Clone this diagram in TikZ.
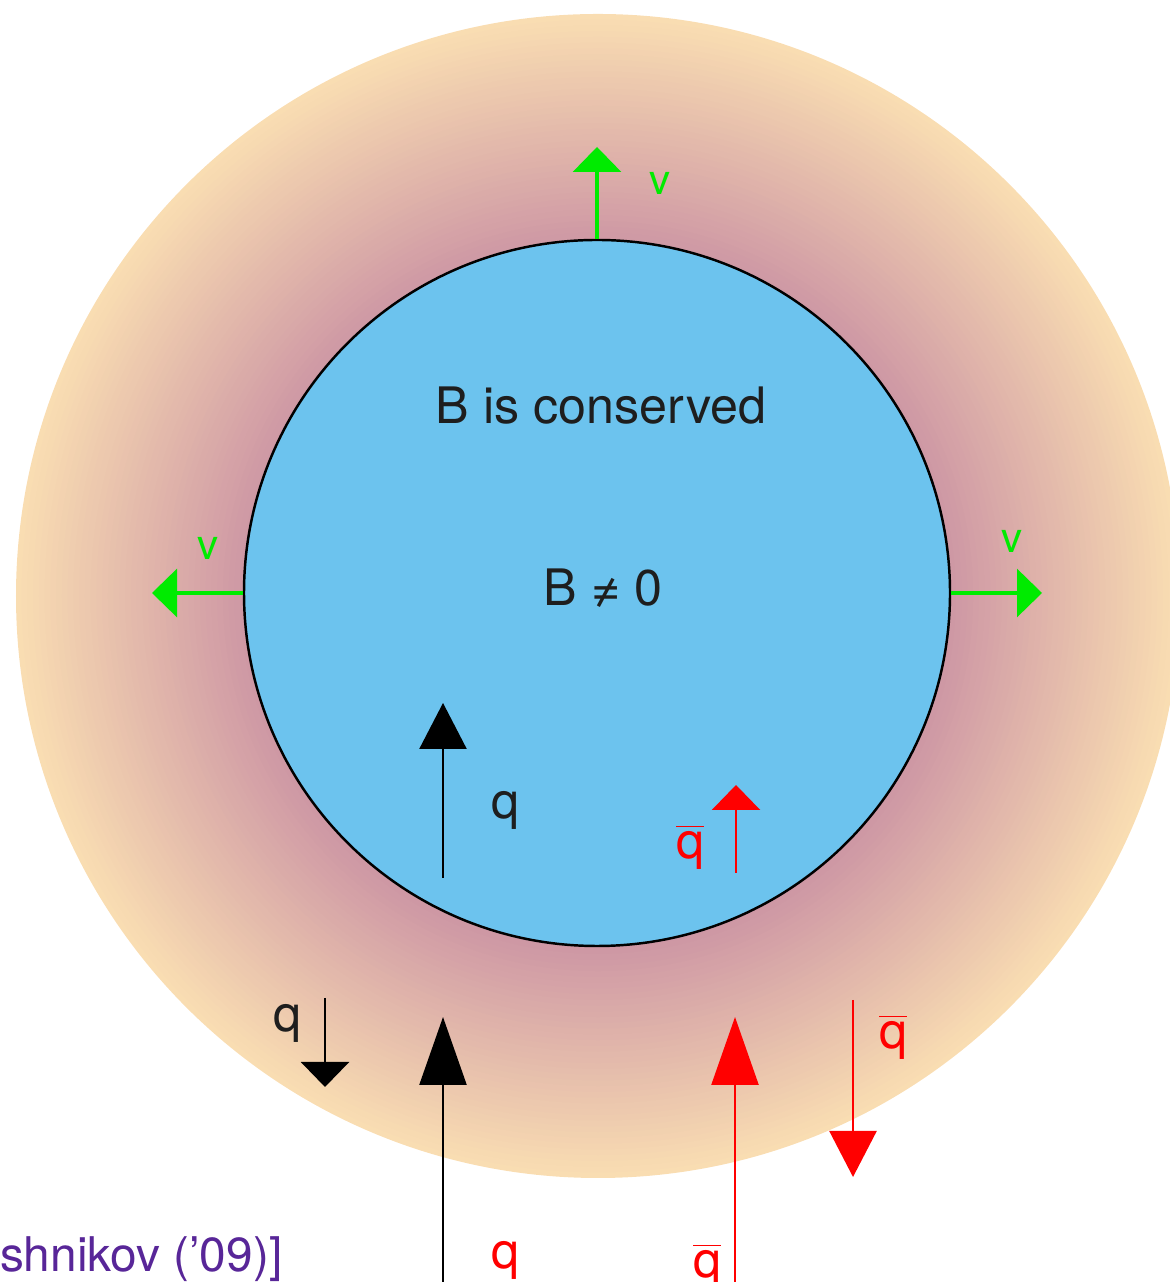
\documentclass[tikz,border=0pt]{standalone}
\usepackage{fontspec}
\setmainfont{TeX Gyre Heros}
\usetikzlibrary{arrows.meta,positioning}

\definecolor{coreblue}{RGB}{108,195,238}
\definecolor{halopink}{RGB}{205,150,164}
\definecolor{halopeach}{RGB}{249,221,178}
\definecolor{vgreen}{RGB}{0,235,0}
\definecolor{refpurple}{RGB}{88,38,152}
\definecolor{inktxt}{RGB}{30,30,30}

\begin{document}
\begin{tikzpicture}[
  txt/.style={font=\fontsize{14.3}{17}\selectfont,text=inktxt},
  vtxt/.style={font=\fontsize{12}{14}\selectfont,text=vgreen},
  reftxt/.style={font=\fontsize{13.6}{16}\selectfont,text=refpurple,inner sep=0pt},
  vel/.style={color=vgreen,line width=0.9pt,-{Triangle[width=0.48cm,length=0.25cm]}},
  quark/.style={line width=0.7pt},
  longhead/.style={-{Triangle[width=0.47cm,length=0.68cm]}},
  midhead/.style={-{Triangle[width=0.47cm,length=0.46cm]}},
  shorthead/.style={-{Triangle[width=0.48cm,length=0.25cm]}}
]
\useasboundingbox (0,0) rectangle (11.70,12.82);
\clip (0,0) rectangle (11.70,12.82);
% halo around the core
\coordinate (halo) at (5.98,6.86);
\foreach \n [evaluate=\n as \r using {5.82-0.0575*\n}, evaluate=\n as \p using {2.5*\n}] in {0,...,40}
  \fill[halopink!\p!halopeach] (halo) circle (\r);
\node[circle,draw,fill=coreblue,line width=0.7pt,minimum size=7.06cm,inner sep=0pt] (core) at (5.97,6.89) {};
\node[txt] (cons) at (6.01,8.76) {B is conserved};
\node[txt] (bnz) at (6.03,6.94) {B ≠ 0};
% expansion
\coordinate (vtop) at (5.97,11.35);
\coordinate (vleft) at (1.52,6.89);
\coordinate (vright) at (10.42,6.89);
\draw[vel] (core.north) -- (vtop);
\draw[vel] (core.west) -- (vleft);
\draw[vel] (core.east) -- (vright);
\node[vtxt] (vt) at (6.60,10.99) {v};
\node[vtxt] (vl) at (2.08,7.34) {v};
\node[vtxt] (vr) at (10.12,7.41) {v};
% quarks inside
\coordinate (qin-s) at (4.43,4.04);
\coordinate (qin-t) at (4.43,5.79);
\coordinate (aqin-s) at (7.36,4.09);
\coordinate (aqin-t) at (7.36,4.97);
\draw[quark,midhead] (qin-s) -- (qin-t);
\draw[quark,red,shorthead] (aqin-s) -- (aqin-t);
\node[txt] (qin) at (5.05,4.72) {q};
\node[txt,text=red] (aqin) at (6.90,4.35) {$\overline{\mbox{q}}$};
% quarks outside
\coordinate (qout-s) at (3.25,2.84);
\coordinate (qout-t) at (3.25,1.95);
\coordinate (qup-s) at (4.43,0);
\coordinate (qup-t) at (4.43,2.65);
\coordinate (aqup-s) at (7.35,0);
\coordinate (aqup-t) at (7.35,2.65);
\coordinate (aqout-s) at (8.53,2.82);
\coordinate (aqout-t) at (8.53,1.05);
\draw[quark,shorthead] (qout-s) -- (qout-t);
\draw[quark,longhead] (qup-s) -- (qup-t);
\draw[quark,red,longhead] (aqup-s) -- (aqup-t);
\draw[quark,red,midhead] (aqout-s) -- (aqout-t);
\node[txt] (qout) at (2.87,2.59) {q};
\node[txt,text=red] (aqout) at (8.93,2.45) {$\overline{\mbox{q}}$};
\node[txt,text=red] (qbot) at (5.05,0.22) {q};
\node[txt,text=red] (aqbot) at (7.07,0.16) {$\overline{\mbox{q}}$};
\node[reftxt,anchor=base east] (cite) at (2.83,0.10) {shnikov (’09)]};
\end{tikzpicture}
\end{document}
